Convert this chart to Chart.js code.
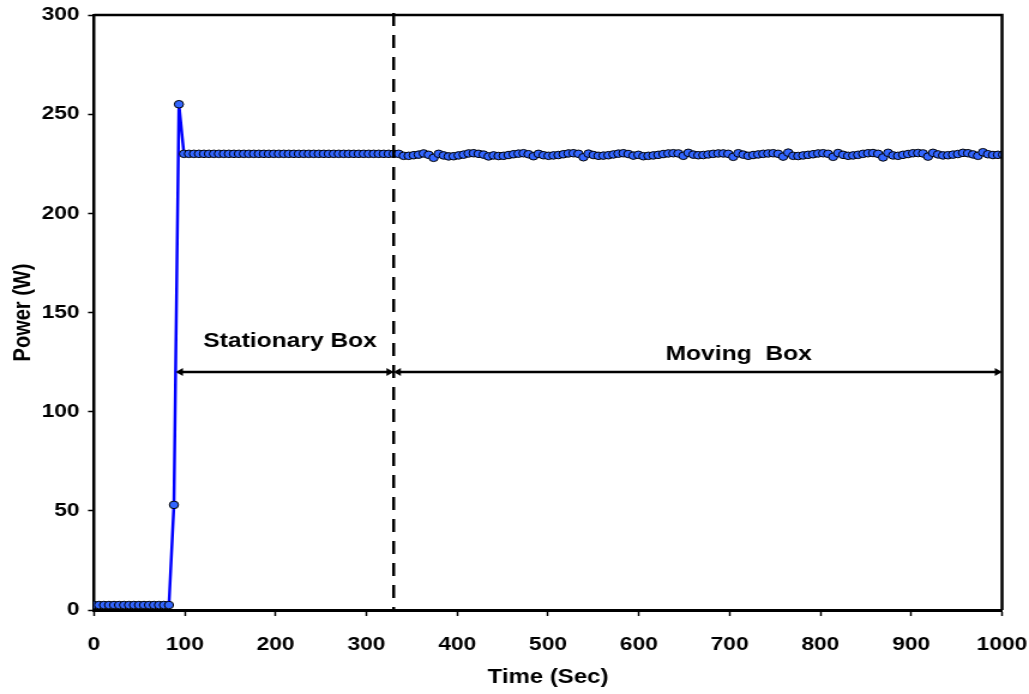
<!DOCTYPE html>
<html><head><meta charset="utf-8">
<script src="https://cdn.jsdelivr.net/npm/chart.js@4/dist/chart.umd.min.js"></script>
<style>html,body{margin:0;padding:0;background:#fff;overflow:hidden}
#c{display:block}</style>
</head><body>
<canvas id="c" width="858" height="694" style="width:1029px;height:694px"></canvas>
<script>
/* ===== data ===== */
const TIME_S=[
  0,5.5,11,16.5,22,27.5,33,38.5,44,49.5,
  55,60.5,66,71.5,77,82.5,88,93.5,99,104.5,
  110,115.5,121,126.5,132,137.5,143,148.5,154,159.5,
  165,170.5,176,181.5,187,192.5,198,203.5,209,214.5,
  220,225.5,231,236.5,242,247.5,253,258.5,264,269.5,
  275,280.5,286,291.5,297,302.5,308,313.5,319,324.5,
  330,335.5,341,346.5,352,357.5,363,368.5,374,379.5,
  385,390.5,396,401.5,407,412.5,418,423.5,429,434.5,
  440,445.5,451,456.5,462,467.5,473,478.5,484,489.5,
  495,500.5,506,511.5,517,522.5,528,533.5,539,544.5,
  550,555.5,561,566.5,572,577.5,583,588.5,594,599.5,
  605,610.5,616,621.5,627,632.5,638,643.5,649,654.5,
  660,665.5,671,676.5,682,687.5,693,698.5,704,709.5,
  715,720.5,726,731.5,737,742.5,748,753.5,759,764.5,
  770,775.5,781,786.5,792,797.5,803,808.5,814,819.5,
  825,830.5,836,841.5,847,852.5,858,863.5,869,874.5,
  880,885.5,891,896.5,902,907.5,913,918.5,924,929.5,
  935,940.5,946,951.5,957,962.5,968,973.5,979,984.5,
  990,995.5,1001
];
const POWER_W=[
  2.5,2.5,2.5,2.5,2.5,2.5,2.5,2.5,2.5,2.5,
  2.5,2.5,2.5,2.5,2.5,2.5,53,255,230,230,
  230,230,230,230,230,230,230,230,230,230,
  230,230,230,230,230,230,230,230,230,230,
  230,230,230,230,230,230,230,230,230,230,
  230,230,230,230,230,230,230,230,230,230,
  230,230,229,229,229.3,229.6,230.2,229.5,228,230,
  229.2,228.7,228.8,229.2,229.6,230.2,230.3,230,229.6,228.7,
  229.2,228.9,229,229.4,229.8,230.1,230.3,229.8,228.8,230,
  229.3,229,229.2,229.4,229.8,230.2,230.3,230,228.3,230.1,
  229.4,229,229.1,229.3,229.7,230.1,230.3,229.9,229.1,229.5,
  228.8,229,229.2,229.5,229.9,230.2,230.3,230.2,229,230.5,
  229.6,229.3,229.4,229.7,230,230.2,230.2,230,228.5,230.3,
  229.6,229,229.4,229.7,230,230.2,230.3,230,228.6,230.6,
  229,228.9,229.2,229.5,229.8,230.2,230.3,230,228.5,230.4,
  229.5,229,229.2,229.5,230,230.3,230.4,230,228.2,230.5,
  229.2,229,229.5,229.9,230.3,230.4,230.2,228.6,230.5,229.7,
  229.2,229.3,229.6,229.9,230.5,230.3,229.7,229,230.8,229.8,
  229.4,229.5,229.6
];
const SWITCH_T=330;                 // box starts moving
const ARROW_W=120;                  // height of the span arrows
const SPANS=[[90,330],[330,1000]];
const SPAN_LABELS=['Stationary Box','Moving  Box'];
const LABEL_T=[216,710],LABEL_W=[132.5,126.3];

/* ===== style ===== */
const FAM='"Liberation Sans", Arial, Helvetica, sans-serif';
const tickFont={family:FAM,size:19,weight:'bold'};
const titleFont={family:FAM,size:20,weight:'bold'};

/* ===== overlay: frame, switch line, span arrows ===== */
const overlay={id:'overlay',afterDatasetsDraw(ch){
  const {ctx,chartArea:a,scales:{x,y}}=ch;
  ctx.save();
  ctx.strokeStyle='#000';ctx.fillStyle='#000';
  // top + right frame
  ctx.lineWidth=2.5;ctx.beginPath();
  ctx.moveTo(a.left,a.top);ctx.lineTo(a.right,a.top);ctx.lineTo(a.right,a.bottom);ctx.stroke();
  // dashed switch line
  const xs=x.getPixelForValue(SWITCH_T);
  ctx.lineWidth=2.5;ctx.setLineDash([13,9]);
  ctx.beginPath();ctx.moveTo(xs,a.top-2);ctx.lineTo(xs,a.bottom);ctx.stroke();
  ctx.setLineDash([]);
  // double-headed arrows
  const ya=y.getPixelForValue(ARROW_W),hl=6,hh=4;
  SPANS.forEach(([t0,t1])=>{
    const x0=x.getPixelForValue(t0),x1=x.getPixelForValue(t1);
    ctx.lineWidth=2.5;ctx.beginPath();ctx.moveTo(x0+2,ya);ctx.lineTo(x1-2,ya);ctx.stroke();
    ctx.beginPath();ctx.moveTo(x0,ya);ctx.lineTo(x0+hl,ya-hh);ctx.lineTo(x0+hl,ya+hh);ctx.closePath();ctx.fill();
    ctx.beginPath();ctx.moveTo(x1,ya);ctx.lineTo(x1-hl,ya-hh);ctx.lineTo(x1-hl,ya+hh);ctx.closePath();ctx.fill();
  });
  ctx.font='bold 20.5px '+FAM;ctx.textAlign='center';ctx.textBaseline='alphabetic';
  SPAN_LABELS.forEach((s,i)=>ctx.fillText(s,x.getPixelForValue(LABEL_T[i]),y.getPixelForValue(LABEL_W[i])));
  ctx.restore();
}};

/* ===== chart ===== */
new Chart(document.getElementById('c'),{
  type:'scatter',
  data:{datasets:[{
    data:TIME_S.map((t,i)=>({x:t,y:POWER_W[i]})),
    showLine:true,tension:0,
    borderColor:'#0000ff',borderWidth:2.5,
    pointRadius:3.8,pointBorderWidth:1,
    pointBackgroundColor:'#3366ff',pointBorderColor:'#000'
  }]},
  options:{
    responsive:false,animation:false,devicePixelRatio:1,
    layout:{padding:{top:15,right:22.5,left:0,bottom:0}},
    plugins:{legend:{display:false},tooltip:{enabled:false}},
    scales:{
      x:{type:'linear',min:0,max:1000,
        ticks:{stepSize:100,font:tickFont,color:'#000',padding:17,maxRotation:0,callback:v=>String(v)},
        grid:{drawOnChartArea:false,tickLength:6,tickWidth:1.5,tickColor:'#000'},
        border:{color:'#000',width:3},
        title:{display:true,text:'Time (Sec)',font:titleFont,color:'#000',padding:{top:0,bottom:5}},
        afterFit:s=>{s.height=84;s.paddingLeft=0;s.paddingRight=0;}},
      y:{min:0,max:300,
        ticks:{stepSize:50,font:tickFont,color:'#000',padding:7},
        grid:{drawOnChartArea:false,tickLength:5,tickWidth:1.5,tickColor:'#000'},
        border:{color:'#000',width:2.5},
        title:{display:true,text:'Power (W)',font:titleFont,color:'#000',padding:{top:7,bottom:0}},
        afterFit:s=>{s.width=78.4;s.paddingTop=0;s.paddingBottom=0;}}
    }
  },
  plugins:[overlay]
});
</script>
</body></html>
